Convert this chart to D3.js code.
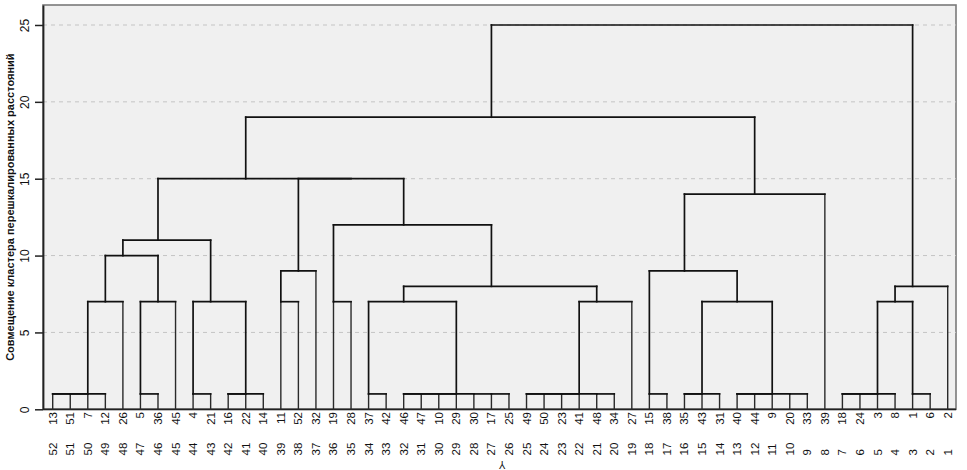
<!DOCTYPE html>
<html>
<head>
<meta charset="utf-8">
<script src="https://cdn.jsdelivr.net/npm/d3@7"></script>
<style>
  html, body { margin: 0; padding: 0; background: #fff; }
  svg { display: block; }
  text { font-family: "Liberation Sans", Arial, sans-serif; fill: #111; }
</style>
</head>
<body>
<div id="chart"></div>
<script>
// ---- DATA ----
// leaf order (case numbers) as they appear along the bottom
const leafOrder = [13,51,7,12,26,5,36,45,4,21,16,22,14,11,52,32,19,28,37,42,46,47,10,29,30,17,25,
  49,50,23,41,48,34,27,15,38,35,43,31,40,44,9,20,33,39,18,24,3,8,1,6,2];
// second row of labels
const rowNumbers = [52,51,50,49,48,47,46,45,44,43,42,41,40,39,38,37,36,35,34,33,32,31,30,29,28,27,26,
  25,24,23,22,21,20,19,18,17,16,15,14,13,12,11,10,9,8,7,6,5,4,3,2,1];
// agglomeration schedule: [cluster A, cluster B, rescaled distance]
// numbers = cases, "mK" = result of merge K
const mergeA = [13,"m0","m1",5,4,16,"m5",37,46,"m8","m9",17,30,"m10",49,"m14","m15",48,"m16",15,35,"m20",40,"m22",20,"m23",18,"m26","m27",1,
  "m2","m3","m4",11,19,"m7","m18","m21","m28","m35","m38","m33","m19","m30","m43","m34","m42","m41","m44","m48","m49"];
const mergeB = [51,7,12,36,21,22,14,42,47,10,29,25,"m11","m12",50,23,41,34,"m17",38,43,31,44,9,33,"m24",24,3,8,6,
  26,45,"m6",52,28,"m13",27,"m25","m29","m36",2,32,"m37","m31","m32","m39",39,"m45","m47","m46","m40"];
const mergeDist = [1,1,1,1,1,1,1,1,1,1,1,1,1,1,1,1,1,1,1,1,1,1,1,1,1,1,1,1,1,1,
  7,7,7,7,7,7,7,7,7,8,8,9,9,10,11,12,14,15,15,19,25];
const yTicks = [0,5,10,15,20,25];
const yMax = 26.3;
const yTitle = "Совмещение кластера перешкалированных расстояний";
const xTitle = "Y";

// ---- LAYOUT ----
const W = 967, H = 470;
const plot = { left: 43, right: 956, top: 5, bottom: 409.3 };

const svg = d3.select("#chart").append("svg").attr("width", W).attr("height", H);

const x = d3.scalePoint().domain(leafOrder).range([52.7, 947.7]);
const y = d3.scaleLinear().domain([0, yMax]).range([plot.bottom, plot.top]);

// background panel
svg.append("rect")
  .attr("x", plot.left).attr("y", plot.top)
  .attr("width", plot.right - plot.left).attr("height", plot.bottom - plot.top)
  .attr("fill", "#f0f0f0").attr("stroke", "#7a7a7a").attr("stroke-width", 1.6);

// gridlines
svg.append("g").selectAll("line").data(yTicks.filter(d => d > 0)).join("line")
  .attr("x1", plot.left).attr("x2", plot.right)
  .attr("y1", d => y(d)).attr("y2", d => y(d))
  .attr("stroke", "#c4c4c4").attr("stroke-width", 1).attr("stroke-dasharray", "4,4");

// y axis
const yAxis = svg.append("g").attr("transform", `translate(${plot.left},0)`)
  .call(d3.axisLeft(y).tickValues(yTicks).tickSize(8).tickSizeOuter(0));
yAxis.select(".domain").attr("stroke", "#222").attr("stroke-width", 1.8);
yAxis.selectAll(".tick line").attr("stroke", "#222").attr("stroke-width", 1.5);
yAxis.selectAll(".tick text")
  .attr("x", 0).attr("dy", null)
  .attr("transform", "translate(-18,0) rotate(-90)")
  .attr("text-anchor", "middle").attr("dominant-baseline", "central")
  .attr("font-size", 12).style("font-family", "'Liberation Sans', Arial, sans-serif").attr("fill", "#111");

// bottom line
svg.append("line")
  .attr("x1", plot.left).attr("x2", plot.right)
  .attr("y1", y(0)).attr("y2", y(0))
  .attr("stroke", "#222").attr("stroke-width", 1.8);

// y title
svg.append("text")
  .attr("transform", `translate(10,${(plot.top + plot.bottom) / 2}) rotate(-90)`)
  .attr("text-anchor", "middle").attr("dominant-baseline", "central")
  .attr("font-size", 11).attr("font-weight", "bold")
  .text(yTitle);

// ---- TREE ----
const leafIndex = new Map(leafOrder.map((d, i) => [d, i]));
const nodes = [];   // {idx, h}
function resolve(ref) {
  if (typeof ref === "number") return { idx: leafIndex.get(ref), h: 0, leaf: true };
  return nodes[+ref.slice(1)];
}
const segs = [];
mergeA.forEach((a, k) => {
  const A = resolve(a), B = resolve(mergeB[k]), h = mergeDist[k];
  const xa = x(leafOrder[A.idx]), xb = x(leafOrder[B.idx]);
  [A, B].forEach((c, j) => {
    const cx = j === 0 ? xa : xb;
    if (c.h < h) segs.push({ x1: cx, x2: cx, y1: y(c.h), y2: y(h), leaf: c.leaf });
  });
  segs.push({ x1: xa, x2: xb, y1: y(h), y2: y(h), leaf: false });
  nodes.push({ idx: Math.floor((A.idx + B.idx) / 2), h: h, leaf: false });
});

svg.append("g").selectAll("line").data(segs).join("line")
  .attr("x1", d => d.x1).attr("x2", d => d.x2)
  .attr("y1", d => d.y1).attr("y2", d => d.y2)
  .attr("stroke", d => d.leaf ? "#2a2a2a" : "#111")
  .attr("stroke-width", d => d.leaf ? 1.4 : 1.7)
  .attr("stroke-linecap", "square");

// ---- LABELS ----
svg.append("g").selectAll("text").data(leafOrder).join("text")
  .attr("transform", d => `translate(${x(d)},${412}) rotate(-90)`)
  .attr("text-anchor", "end").attr("dominant-baseline", "central")
  .attr("font-size", 11.5)
  .text(d => d);

svg.append("g").selectAll("text").data(rowNumbers).join("text")
  .attr("transform", (d, i) => `translate(${x(leafOrder[i])},${455.5}) rotate(-90)`)
  .attr("text-anchor", "start").attr("dominant-baseline", "central")
  .attr("font-size", 11.5)
  .text(d => d);

svg.append("text")
  .attr("transform", `translate(${(52.7 + 947.7) / 2 + 2},464) rotate(180)`)
  .attr("text-anchor", "middle").attr("dominant-baseline", "central")
  .attr("font-size", 10)
  .text(xTitle);
</script>
</body>
</html>
